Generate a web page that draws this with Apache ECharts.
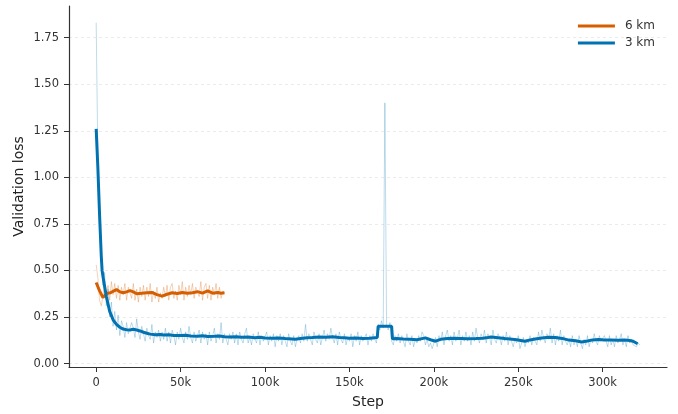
<!DOCTYPE html>
<html><head><meta charset="utf-8">
<script src="https://cdn.jsdelivr.net/npm/echarts@6/dist/echarts.min.js"></script>
<style>html,body{margin:0;padding:0;background:#fff}#c{width:678px;height:414px}</style>
</head><body><div id="c"></div>
<script>
// ---- data ----
const xTicks = [0, 50000, 100000, 150000, 200000, 250000, 300000];
const yTicks = [0, 0.25, 0.5, 0.75, 1.0, 1.25, 1.5, 1.75];

// raw 3 km validation loss, one value per 1k steps, 0 .. 322k
const raw3Step = 1000;
const raw3 = [
1.83,1.1,0.72,0.55,0.42,0.49,0.31,0.4,0.25,0.33,0.2,0.28,0.18,0.26,0.15,0.23,0.2,0.14,0.22,0.16,
0.15,0.22,0.19,0.14,0.24,0.17,0.13,0.2,0.16,0.12,0.19,0.15,0.13,0.21,0.11,0.17,0.14,0.18,0.12,0.17,
0.13,0.19,0.12,0.17,0.11,0.18,0.15,0.1,0.17,0.13,0.19,0.14,0.11,0.17,0.13,0.2,0.14,0.11,0.17,0.12,
0.15,0.18,0.11,0.17,0.13,0.16,0.1,0.17,0.12,0.15,0.19,0.11,0.16,0.13,0.22,0.11,0.16,0.13,0.1,0.16,
0.13,0.17,0.11,0.16,0.1,0.17,0.13,0.11,0.16,0.19,0.11,0.14,0.1,0.16,0.13,0.11,0.17,0.1,0.15,0.12,
0.13,0.17,0.1,0.15,0.12,0.16,0.09,0.15,0.12,0.16,0.1,0.15,0.12,0.09,0.16,0.12,0.1,0.15,0.09,0.13,
0.15,0.11,0.16,0.12,0.21,0.12,0.16,0.13,0.1,0.17,0.13,0.11,0.16,0.1,0.14,0.18,0.12,0.16,0.13,0.19,
0.14,0.11,0.16,0.1,0.17,0.13,0.11,0.16,0.1,0.14,0.12,0.16,0.09,0.15,0.12,0.17,0.1,0.15,0.12,0.14,
0.16,0.1,0.15,0.12,0.16,0.13,0.11,0.21,0.18,0.23,0.19,1.40,0.21,0.18,0.22,0.12,0.1,0.15,0.12,0.16,
0.11,0.15,0.12,0.09,0.16,0.12,0.1,0.15,0.09,0.13,0.11,0.15,0.12,0.17,0.15,0.1,0.13,0.09,0.11,0.08,
0.11,0.14,0.09,0.15,0.12,0.17,0.1,0.15,0.18,0.12,0.15,0.1,0.17,0.12,0.14,0.18,0.1,0.15,0.12,0.17,
0.12,0.15,0.1,0.17,0.12,0.19,0.14,0.11,0.16,0.13,0.18,0.11,0.16,0.14,0.1,0.18,0.13,0.11,0.16,0.14,
0.1,0.15,0.12,0.17,0.1,0.15,0.12,0.09,0.13,0.11,0.15,0.08,0.11,0.14,0.09,0.13,0.11,0.15,0.1,0.14,
0.15,0.1,0.17,0.12,0.18,0.14,0.11,0.16,0.13,0.19,0.11,0.16,0.1,0.15,0.12,0.18,0.1,0.15,0.12,0.1,
0.13,0.09,0.15,0.1,0.13,0.09,0.15,0.11,0.08,0.13,0.1,0.15,0.09,0.13,0.11,0.16,0.12,0.1,0.15,0.12,
0.11,0.15,0.12,0.09,0.15,0.1,0.13,0.09,0.15,0.11,0.13,0.16,0.1,0.13,0.09,0.15,0.11,0.13,0.1,0.09,
0.09,0.11,0.1];

// raw 6 km validation loss, one value per 1k steps, 0 .. 76k
const raw6Step = 1000;
const raw6 = [
0.53,0.46,0.34,0.31,0.36,0.43,0.36,0.42,0.34,0.44,0.37,0.43,0.35,0.42,0.34,0.41,0.37,0.43,0.34,0.41,
0.42,0.35,0.43,0.34,0.4,0.33,0.41,0.36,0.42,0.34,0.41,0.36,0.43,0.33,0.39,0.35,0.41,0.33,0.38,0.35,
0.41,0.36,0.42,0.34,0.41,0.43,0.35,0.39,0.34,0.42,0.37,0.44,0.34,0.41,0.36,0.42,0.37,0.43,0.35,0.41,
0.42,0.36,0.44,0.34,0.41,0.43,0.35,0.42,0.34,0.41,0.37,0.43,0.35,0.41,0.35,0.39,0.38];

// smoothed curves: [step, loss]
const smooth3 = [[0,1.26],[1000,1.05],[2000,0.8],[3000,0.58],[3500,0.5],[4500,0.44],[6000,0.36],[8000,0.28],
[10000,0.235],[12000,0.21],[14000,0.195],[16000,0.185],[18000,0.182],[20000,0.18],[22000,0.184],[24000,0.18],
[26000,0.175],[28000,0.168],[30000,0.163],[32000,0.158],[35000,0.155],[38000,0.156],[40000,0.153],[43000,0.155],
[46000,0.151],[50000,0.15],[53000,0.152],[56000,0.148],[60000,0.147],[63000,0.149],[66000,0.145],[70000,0.146],
[73000,0.148],[76000,0.144],[79000,0.142],[83000,0.144],[86000,0.141],[90000,0.142],[94000,0.139],[97000,0.141],
[100000,0.137],[104000,0.136],[108000,0.137],[112000,0.134],[116000,0.132],[118000,0.13],[121000,0.134],
[125000,0.139],[128000,0.14],[132000,0.142],[136000,0.141],[140000,0.144],[144000,0.14],[147000,0.138],
[150000,0.136],[154000,0.137],[158000,0.135],[162000,0.136],[166500,0.14],[167000,0.2],[175000,0.2],
[175500,0.133],[178000,0.135],[182000,0.132],[186000,0.13],[190000,0.128],[193000,0.134],[195000,0.138],
[198000,0.128],[201000,0.12],[204000,0.13],[208000,0.134],[212000,0.136],[216000,0.135],[220000,0.133],
[225000,0.134],[229000,0.136],[232000,0.14],[234000,0.143],[238000,0.139],[242000,0.134],[245000,0.132],
[249000,0.128],[254000,0.12],[257000,0.127],[260000,0.132],[264000,0.137],[268000,0.141],[272000,0.14],
[276000,0.135],[280000,0.126],[284000,0.122],[287500,0.116],[291000,0.121],[294000,0.127],[297500,0.129],
[301000,0.127],[305000,0.127],[309000,0.125],[313000,0.126],[316000,0.124],[318000,0.12],[320700,0.106]];

const smooth6 = [[0,0.435],[2000,0.39],[4000,0.355],[5000,0.365],[6500,0.378],[8500,0.38],[10000,0.388],
[12000,0.397],[14000,0.385],[16000,0.38],[18000,0.385],[20000,0.392],[22000,0.385],[24000,0.375],[27000,0.378],
[30000,0.38],[33000,0.382],[36000,0.37],[39000,0.362],[42000,0.372],[45000,0.38],[48000,0.376],[51000,0.382],
[54000,0.378],[57000,0.38],[60000,0.386],[63000,0.378],[66000,0.39],[69000,0.378],[72000,0.382],[74000,0.378],
[76000,0.38]];

// ---- build ----
const rawPairs = (arr, step) => arr.map((v, i) => [i * step, v]);
const chart = echarts.init(document.getElementById('c'), null, {renderer: 'canvas'});
const font = 'DejaVu Sans';
const axisCol = '#333';
chart.setOption({
  animation: false,
  backgroundColor: '#fff',
  textStyle: {fontFamily: font},
  grid: {left: 69, right: 11, top: 6, bottom: 46},
  legend: {
    data: ['6 km', '3 km'], orient: 'vertical', right: 18, top: 15,
    itemWidth: 37, itemHeight: 14, itemGap: 5,
    textStyle: {fontFamily: font, fontSize: 12, color: '#333', padding: [0, 0, 0, 5]},
    icon: 'path://M0,5.5 L37,5.5 L37,8.5 L0,8.5 Z'
  },
  xAxis: {
    type: 'value', min: -16100, max: 338100,
    name: 'Step', nameLocation: 'middle', nameGap: 28, nameMoveOverlap: false,
    nameTextStyle: {fontFamily: font, fontSize: 14, color: '#222'},
    axisLine: {show: true, onZero: false, lineStyle: {color: axisCol, width: 1.2}},
    axisTick: {show: true, inside: false, length: 5, customValues: xTicks, lineStyle: {color: axisCol, width: 1}},
    axisLabel: {customValues: xTicks, fontFamily: font, fontSize: 11.5, color: '#333', margin: 10,
      formatter: v => v === 0 ? '0' : (v / 1000) + 'k'},
    splitLine: {show: false}
  },
  yAxis: {
    type: 'value', min: -0.0185, max: 1.92,
    name: 'Validation loss', nameLocation: 'middle', nameGap: 43, nameRotate: 90, nameMoveOverlap: false,
    nameTextStyle: {fontFamily: font, fontSize: 14, color: '#222'},
    axisLine: {show: true, onZero: false, lineStyle: {color: axisCol, width: 1.2}},
    axisTick: {show: true, inside: false, length: 5, customValues: yTicks, lineStyle: {color: axisCol, width: 1}},
    axisLabel: {customValues: yTicks, fontFamily: font, fontSize: 11.5, color: '#333', margin: 10,
      formatter: v => v.toFixed(2)},
    splitLine: {show: true, lineStyle: {color: '#e6e6e6', type: [3, 3], width: 0.8}}
  },
  series: [
    {name: '6 km raw', type: 'line', data: rawPairs(raw6, raw6Step), symbol: 'none', silent: true,
      lineStyle: {color: 'rgba(213,94,0,0.28)', width: 1}, itemStyle: {color: '#D55E00'}, z: 1},
    {name: '3 km raw', type: 'line', data: rawPairs(raw3, raw3Step), symbol: 'none', silent: true,
      lineStyle: {color: 'rgba(0,114,178,0.26)', width: 1}, itemStyle: {color: '#0072B2'}, z: 1},
    {name: '6 km', type: 'line', data: smooth6, symbol: 'none',
      lineStyle: {color: '#D55E00', width: 3}, itemStyle: {color: '#D55E00'}, z: 3},
    {name: '3 km', type: 'line', data: smooth3, symbol: 'none',
      lineStyle: {color: '#0072B2', width: 3}, itemStyle: {color: '#0072B2'}, z: 4}
  ]
});
</script></body></html>
